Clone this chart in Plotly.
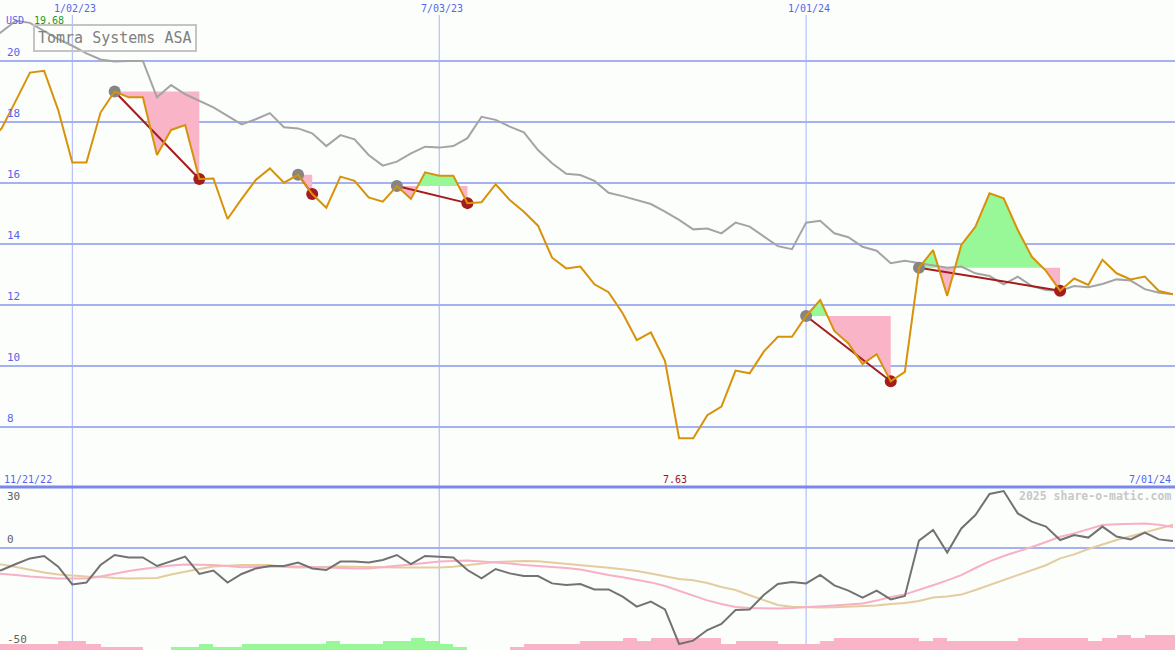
import pandas as pd
import plotly.graph_objects as go

# ---------------- data ----------------
dates = pd.date_range('2022-11-21', periods=85, freq='7D')

price = [17.30, 17.80, 18.70, 19.62, 19.68, 18.39, 16.67, 16.67, 18.31, 19.00,
         18.81, 18.81, 16.92, 17.74, 17.90, 16.13, 16.15, 14.82, 15.48, 16.10,
         16.48, 16.01, 16.27, 15.64, 15.19, 16.21, 16.07, 15.53, 15.39, 15.90,
         15.48, 16.35, 16.24, 16.24, 15.34, 15.37, 15.96, 15.44, 15.06, 14.60,
         13.55, 13.20, 13.26, 12.68, 12.42, 11.73, 10.85, 11.10, 10.17, 7.63,
         7.63, 8.39, 8.67, 9.85, 9.76, 10.47, 10.96, 10.96, 11.64, 12.16,
         11.15, 10.74, 10.06, 10.39, 9.50, 9.81, 13.22, 13.80, 12.30, 13.97,
         14.57, 15.66, 15.50, 14.46, 13.58, 13.12, 12.47, 12.87, 12.66, 13.48,
         13.04, 12.84, 12.93, 12.46, 12.35]

index_rel = [20.60, 20.95, 21.32, 21.25, 20.98, 20.72, 20.50, 20.25, 20.05, 19.98,
             20.00, 20.00, 18.81, 19.21, 18.91, 18.69, 18.48, 18.20, 17.92, 18.09,
             18.29, 17.83, 17.79, 17.63, 17.21, 17.57, 17.43, 16.92, 16.57, 16.70,
             16.97, 17.19, 17.16, 17.21, 17.47, 18.17, 18.07, 17.85, 17.66, 17.08,
             16.65, 16.30, 16.26, 16.07, 15.68, 15.57, 15.44, 15.31, 15.06, 14.79,
             14.48, 14.51, 14.35, 14.70, 14.57, 14.24, 13.93, 13.83, 14.70, 14.76,
             14.35, 14.22, 13.91, 13.78, 13.37, 13.45, 13.37, 13.29, 13.22, 13.26,
             13.04, 12.95, 12.68, 12.93, 12.62, 12.49, 12.47, 12.62, 12.58, 12.69,
             12.84, 12.80, 12.52, 12.40, 12.35]

momentum = [-13.0, -11.0, -8.0, -5.2, -4.0, -9.3, -18.2, -17.3, -8.5, -3.5,
            -4.7, -4.7, -9.0, -6.8, -4.3, -13.0, -11.3, -17.3, -13.0, -10.2,
            -9.0, -9.0, -7.3, -10.2, -11.0, -6.8, -6.8, -7.2, -6.0, -3.5,
            -8.0, -4.0, -4.3, -4.7, -11.0, -15.2, -10.5, -12.7, -14.0, -14.0,
            -17.7, -18.5, -18.0, -20.7, -20.7, -24.3, -29.3, -26.8, -30.7, -48.0,
            -46.3, -41.0, -38.0, -31.0, -30.7, -23.5, -18.0, -17.0, -17.7, -13.5,
            -18.7, -21.3, -24.8, -21.3, -25.7, -24.0, 3.7, 9.0, -2.3, 9.8,
            16.5, 27.0, 28.5, 17.3, 13.2, 10.7, 4.0, 6.5, 5.2, 10.7,
            5.7, 4.3, 7.7, 4.3, 3.5]

ma_fast = [-12.3, -12.8, -13.5, -14.2, -14.8, -15.2, -15.2, -15.2, -14.2, -12.7,
           -11.5, -10.5, -9.6, -8.8, -8.2, -8.2, -8.5, -9.0, -9.6, -9.5,
           -9.3, -9.3, -9.3, -9.6, -9.8, -10.0, -10.2, -10.2, -9.7, -8.9,
           -8.2, -7.4, -6.8, -6.5, -6.3, -6.8, -7.2, -7.8, -8.5, -8.9,
           -9.3, -10.0, -10.7, -12.2, -13.5, -14.6, -15.9, -17.2, -19.0, -21.5,
           -24.0, -26.2, -28.0, -29.5, -30.0, -30.2, -30.2, -30.0, -29.7, -29.2,
           -28.8, -28.3, -27.7, -26.3, -24.5, -23.2, -21.0, -18.6, -16.2, -13.6,
           -10.0, -6.7, -4.0, -1.8, 0.5, 3.0, 5.6, 7.3, 9.5, 11.5,
           11.9, 12.0, 12.3, 11.6, 10.5]

ma_slow = [-7.5, -8.3, -9.5, -11.0, -12.3, -13.2, -13.8, -14.2, -14.4, -15.0,
           -15.2, -15.2, -15.0, -13.3, -11.8, -10.5, -9.3, -8.9, -8.5, -8.5,
           -8.5, -9.5, -9.8, -9.6, -9.4, -9.3, -9.4, -9.6, -9.8, -9.8,
           -9.8, -9.8, -9.8, -9.4, -8.6, -7.6, -7.0, -6.8, -6.5, -6.6,
           -7.2, -7.8, -8.5, -9.2, -9.9, -10.6, -11.5, -12.8, -14.2, -15.5,
           -16.1, -17.5, -19.5, -21.0, -23.6, -26.0, -28.5, -29.4, -29.7, -29.8,
           -29.6, -29.4, -29.2, -28.8, -28.0, -27.5, -26.5, -24.8, -24.2, -23.3,
           -21.0, -18.5, -16.0, -13.8, -11.2, -8.6, -5.2, -3.2, -0.5, 1.8,
           4.0, 5.9, 7.8, 10.0, 11.6]

# weekly signal strength (sign: + up / - down)
bar_signal = [-2, -2, -2, -2, -2, -3, -3, -2, -1, -1,
              -1, 0, 0, 1, 1, 2, 1, 1, 2, 2,
              2, 2, 2, 2, 3, 2, 2, 2, 3, 3,
              4, 3, 2, 1, 0, 0, 0, -1, -2, -2,
              -2, -2, -3, -3, -3, -4, -3, -4, -4, -4,
              -4, -4, -2, -3, -3, -3, -2, -2, -2, -3,
              -4, -4, -4, -4, -4, -4, -3, -4, -3, -3,
              -3, -3, -3, -4, -4, -4, -4, -4, -3, -4,
              -5, -4, -5, -5, -5]

# (start index, end index) of trade signals
signals = [(9, 15), (22, 23), (29, 34), (58, 64), (66, 76)]

top_ticks = [8, 10, 12, 14, 16, 18, 20]
bottom_ticks = [30, 0, -50]
x_ticks = ['2023-01-02', '2023-07-03', '2024-01-01']
x_tick_labels = ['1/02/23', '7/03/23', '1/01/24']
title_text = 'Tomra Systems ASA'
currency = 'USD'
first_label = '11/21/22'
last_label = '7/01/24'
watermark = '2025 share-o-matic.com'

# ---------------- styles ----------------
FONT = 'DejaVu Sans Mono'
BG = '#fcfefc'
GRID = '#a6b1f2'
BLUE_TXT = '#5566ee'
PINK = '#fab4c8'
GREEN = '#98f898'
ORANGE = '#d8920a'
DARKRED = '#a51c1c'

fig = go.Figure()

# fills between price and the signal start level
for s, e in signals:
    L = price[s]
    ts, ps = [], []
    for i in range(s, e + 1):
        if i > s:
            p0, p1 = price[i - 1], price[i]
            if (p0 - L) * (p1 - L) < 0:
                f = (L - p0) / (p1 - p0)
                ts.append(dates[i - 1] + (dates[i] - dates[i - 1]) * f)
                ps.append(L)
        ts.append(dates[i])
        ps.append(price[i])
    lo = [min(p, L) for p in ps]
    hi = [max(p, L) for p in ps]
    xs = list(ts) + list(ts[::-1])
    fig.add_trace(go.Scatter(x=xs, y=lo + [L] * len(ts), fill='toself', fillcolor=PINK,
                             mode='lines', line=dict(width=0), hoverinfo='skip'))
    fig.add_trace(go.Scatter(x=xs, y=hi + [L] * len(ts), fill='toself', fillcolor=GREEN,
                             mode='lines', line=dict(width=0), hoverinfo='skip'))

# relative index line
fig.add_trace(go.Scatter(x=dates, y=index_rel, mode='lines',
                         line=dict(color='#a4a4a4', width=2)))

# signal connecting lines
lx, ly = [], []
for s, e in signals:
    lx += [dates[s], dates[e], None]
    ly += [price[s], price[e], None]
fig.add_trace(go.Scatter(x=lx, y=ly, mode='lines', line=dict(color=DARKRED, width=2)))

fig.add_trace(go.Scatter(x=[dates[s] for s, e in signals], y=[price[s] for s, e in signals],
                         mode='markers', marker=dict(color='#858585', size=12)))
fig.add_trace(go.Scatter(x=[dates[e] for s, e in signals], y=[price[e] for s, e in signals],
                         mode='markers', marker=dict(color=DARKRED, size=12)))

# price line
fig.add_trace(go.Scatter(x=dates, y=price, mode='lines', line=dict(color=ORANGE, width=2)))

# lower panel
bar_x = [d + pd.Timedelta(days=3.5) for d in dates]
fig.add_trace(go.Bar(x=bar_x, y=[abs(v) * 1.5 for v in bar_signal], base=-51,
                     width=7 * 24 * 3600 * 1000,
                     marker=dict(color=[GREEN if v > 0 else PINK for v in bar_signal], line=dict(width=0)),
                     yaxis='y2'))
fig.add_trace(go.Scatter(x=dates, y=ma_slow, mode='lines', line=dict(color='#e4cc9e', width=2), yaxis='y2'))
fig.add_trace(go.Scatter(x=dates, y=ma_fast, mode='lines', line=dict(color='#f8b0c6', width=2), yaxis='y2'))
fig.add_trace(go.Scatter(x=dates, y=momentum, mode='lines', line=dict(color='#727272', width=2), yaxis='y2'))

SPLIT = 163 / 650

shapes = []
for d in x_ticks:
    shapes.append(dict(type='line', xref='x', yref='paper', x0=d, x1=d, y0=0, y1=1 - 15 / 650,
                       line=dict(color='#a8b2f4', width=1), layer='below'))
shapes.append(dict(type='line', xref='paper', yref='paper', x0=0, x1=1, y0=SPLIT, y1=SPLIT,
                   line=dict(color='#7a88ea', width=3), layer='below'))

ann = []
for d, t in zip(x_ticks, x_tick_labels):
    ann.append(dict(x=d, y=1 - 8 / 650, xref='x', yref='paper', text=t, showarrow=False,
                    xanchor='center', yanchor='middle', xshift=3,
                    font=dict(family=FONT, size=10, color=BLUE_TXT)))
for v in top_ticks:
    ann.append(dict(x=0.004, y=v, xref='paper', yref='y', text=str(v), showarrow=False,
                    xanchor='left', yanchor='bottom', font=dict(family=FONT, size=11, color=BLUE_TXT)))
for v in bottom_ticks:
    ann.append(dict(x=0.004, y=v, xref='paper', yref='y2', text=str(v), showarrow=False,
                    xanchor='left', yanchor='top' if v == max(bottom_ticks) else 'bottom',
                    font=dict(family=FONT, size=11, color='#606060')))
ann.append(dict(x=0.003, y=1 - 20 / 650, xref='paper', yref='paper', text=currency, showarrow=False,
                xanchor='left', yanchor='middle', font=dict(family=FONT, size=10, color=BLUE_TXT)))
ann.append(dict(x=32 / 1175, y=1 - 20 / 650, xref='paper', yref='paper', text=f'{max(price):.2f}',
                showarrow=False, xanchor='left', yanchor='middle',
                font=dict(family=FONT, size=10, color='#1c9c1c')))
ann.append(dict(x=33 / 1175, y=1 - 24 / 650, xref='paper', yref='paper', text=title_text, showarrow=False,
                xanchor='left', yanchor='top', bordercolor='#c4c4c4', borderwidth=2, borderpad=3,
                font=dict(family=FONT, size=15, color='#808080')))
ann.append(dict(x=0.002, y=1 - 479 / 650, xref='paper', yref='paper', text=first_label, showarrow=False,
                xanchor='left', yanchor='middle', font=dict(family=FONT, size=10, color=BLUE_TXT)))
ann.append(dict(x=0.998, y=1 - 479 / 650, xref='paper', yref='paper', text=last_label, showarrow=False,
                xanchor='right', yanchor='middle', font=dict(family=FONT, size=10, color=BLUE_TXT)))
imin = price.index(min(price))
ann.append(dict(x=dates[imin], y=1 - 479 / 650, xref='x', yref='paper', text=f'{min(price):.2f}',
                showarrow=False, xanchor='center', yanchor='middle', xshift=-4,
                font=dict(family=FONT, size=10, color='#a01818')))
ann.append(dict(x=0.998, y=1 - 496 / 650, xref='paper', yref='paper', text=f'<b>{watermark}</b>',
                showarrow=False, xanchor='right', yanchor='middle',
                font=dict(family=FONT, size=11.5, color='#c8c8c8')))

fig.update_layout(
    width=1175, height=650,
    margin=dict(l=0, r=0, t=0, b=0),
    paper_bgcolor=BG, plot_bgcolor='rgba(0,0,0,0)',
    showlegend=False,
    xaxis=dict(type='date', range=['2022-11-27 03:00', '2024-07-02 00:00'], showgrid=False,
               showticklabels=False, zeroline=False, showline=False, ticks=''),
    yaxis=dict(domain=[SPLIT, 1], range=[6.033, 22.0], tickvals=top_ticks, showgrid=True,
               gridcolor=GRID, gridwidth=2, showticklabels=False, zeroline=False, ticks=''),
    yaxis2=dict(domain=[0, SPLIT], range=[-51, 30.5], tickvals=[0], showgrid=True,
                gridcolor=GRID, gridwidth=2, showticklabels=False, zeroline=False, anchor='x', ticks=''),
    shapes=shapes,
    annotations=ann,
    bargap=0,
)

fig.write_html('out.html', config={'displayModeBar': False},
               post_script="document.body.style.margin='0';document.body.style.padding='0';"
                           "document.body.style.background='" + BG + "';")
